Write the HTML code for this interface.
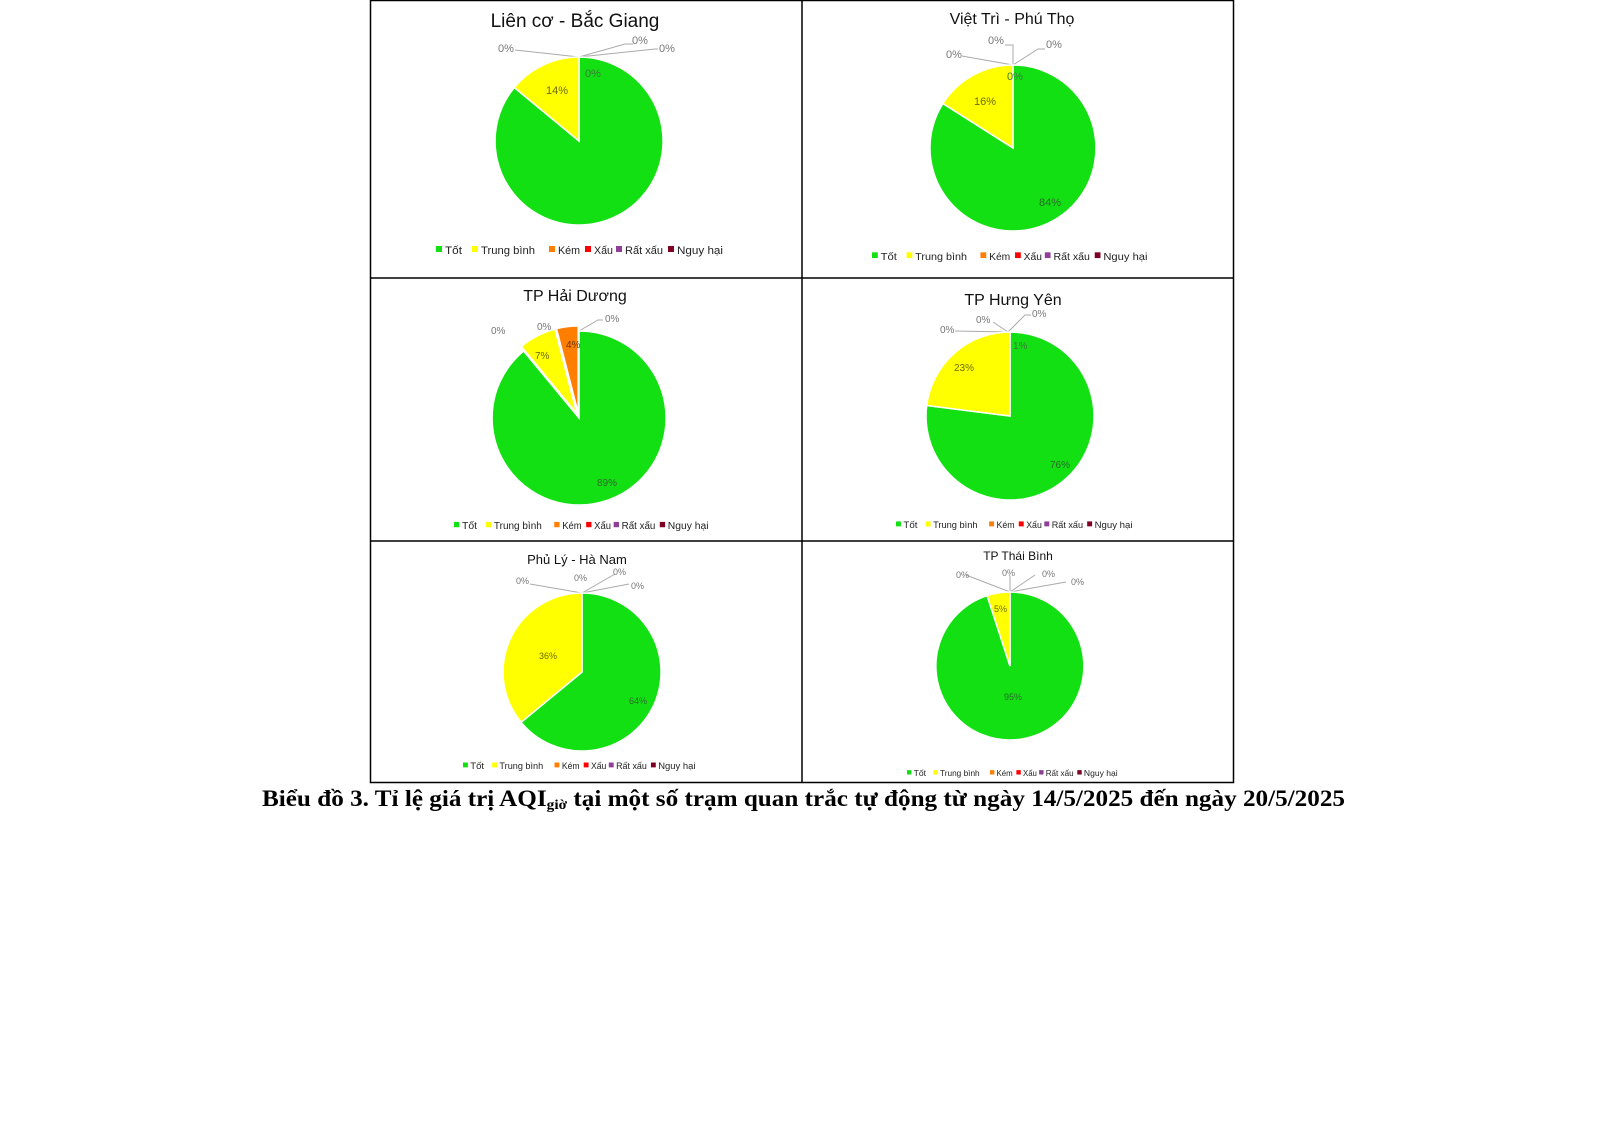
<!DOCTYPE html>
<html><head><meta charset="utf-8"><style>
html,body{margin:0;padding:0;background:#fff;}
svg{display:block;}
text{font-family:"Liberation Sans",sans-serif;}
</style></head><body>
<svg width="1600" height="1132" viewBox="0 0 1600 1132" xmlns="http://www.w3.org/2000/svg">
<defs>
<g id="leg">
<rect x="0" y="-8" width="6" height="6" fill="#13e013"/><text x="9" y="0" font-size="11" fill="#222" textLength="17" lengthAdjust="spacingAndGlyphs">Tốt</text>
<rect x="36" y="-8" width="6" height="6" fill="#ffff00"/><text x="45" y="0" font-size="11" fill="#222" textLength="54" lengthAdjust="spacingAndGlyphs">Trung bình</text>
<rect x="113" y="-8" width="6" height="6" fill="#ff7e00"/><text x="122" y="0" font-size="11" fill="#222" textLength="22" lengthAdjust="spacingAndGlyphs">Kém</text>
<rect x="149" y="-8" width="6" height="6" fill="#ff0000"/><text x="158" y="0" font-size="11" fill="#222" textLength="19" lengthAdjust="spacingAndGlyphs">Xấu</text>
<rect x="180" y="-8" width="6" height="6" fill="#8f3f97"/><text x="189" y="0" font-size="11" fill="#222" textLength="38" lengthAdjust="spacingAndGlyphs">Rất xấu</text>
<rect x="232" y="-8" width="6" height="6" fill="#7e0023"/><text x="241" y="0" font-size="11" fill="#222" textLength="46" lengthAdjust="spacingAndGlyphs">Nguy hại</text>
</g>
</defs>
<g stroke="#000" stroke-width="1.5" fill="none">
<rect x="370.5" y="0.5" width="863" height="782"/>
<line x1="802" y1="0" x2="802" y2="783"/>
<line x1="370" y1="278" x2="1234" y2="278"/>
<line x1="370" y1="541" x2="1234" y2="541"/>
</g>
<g stroke="#aaa" stroke-width="1" fill="none">
<polyline points="515,50 579,57 625,44 633,44"/><polyline points="579,57 655,49 658,49"/>
<polyline points="962,56 1013,65 1013,45 1005,45"/><polyline points="1013,65 1038,49 1045,49"/>
<polyline points="579,331 598,320 603,320"/>
<polyline points="955,331 1008,332"/><polyline points="993,322 1008,332"/><polyline points="1008,332 1025,315 1031,315"/>
<polyline points="530,584 582,593 615,574"/><polyline points="582,593 629,584"/>
<polyline points="966,575 1010,592 1010,576"/><polyline points="1010,592 1035,575"/><polyline points="1010,592 1066,582"/>
</g>
<text x="575" y="27" font-size="19" text-anchor="middle" fill="#111">Liên cơ - Bắc Giang</text>
<path d="M579 141 L579 57 A84 84 0 1 1 514.3 87.5 Z" fill="#13e013" stroke="#fff" stroke-width="1.5"/>
<path d="M579 141 L514.3 87.5 A84 84 0 0 1 579 57 Z" fill="#ffff00" stroke="#fff" stroke-width="1.5"/>
<g font-size="11" fill="#777"><text x="498" y="52">0%</text><text x="632" y="44">0%</text><text x="659" y="52">0%</text></g>
<text x="585" y="77" font-size="11" fill="#3a7a3a">0%</text>
<text x="546" y="94" font-size="11" fill="#6b6b00">14%</text>
<use href="#leg" transform="translate(436,254)"/>
<text x="1012" y="24" font-size="16" text-anchor="middle" fill="#111">Việt Trì - Phú Thọ</text>
<path d="M1013 148 L1013 65 A83 83 0 1 1 942.9 103.5 Z" fill="#13e013" stroke="#fff" stroke-width="1.5"/>
<path d="M1013 148 L942.9 103.5 A83 83 0 0 1 1013 65 Z" fill="#ffff00" stroke="#fff" stroke-width="1.5"/>
<g font-size="11" fill="#777"><text x="946" y="58">0%</text><text x="988" y="44">0%</text><text x="1046" y="48">0%</text></g>
<text x="1007" y="80" font-size="11" fill="#3a7a3a">0%</text>
<text x="974" y="105" font-size="11" fill="#6b6b00">16%</text>
<text x="1039" y="206" font-size="11" fill="#2a6a2a">84%</text>
<use href="#leg" transform="translate(872,260) scale(0.96)"/>
<text x="575" y="301" font-size="16" text-anchor="middle" fill="#111">TP Hải Dương</text>
<path d="M579 418 L579 331 A87 87 0 1 1 523.6 351 Z" fill="#13e013" stroke="#fff" stroke-width="1.5"/>
<path d="M576.7 413.5 L521.3 346.5 A87 87 0 0 1 555 329.2 Z" fill="#ffff00" stroke="#fff" stroke-width="1.5"/>
<path d="M578.2 413 L556.5 328.7 A87 87 0 0 1 578.2 326 Z" fill="#ff7e00" stroke="#fff" stroke-width="1.5"/>
<g font-size="10" fill="#777"><text x="491" y="334">0%</text><text x="537" y="330">0%</text><text x="605" y="322">0%</text></g>
<text x="566" y="348" font-size="10" fill="#6a3300">4%</text>
<text x="535" y="359" font-size="10" fill="#6b6b00">7%</text>
<text x="597" y="486" font-size="10" fill="#2a6a2a">89%</text>
<use href="#leg" transform="translate(454,529) scale(0.887)"/>
<text x="1013" y="305" font-size="16" text-anchor="middle" fill="#111">TP Hưng Yên</text>
<path d="M1010 416 L1010 332 A84 84 0 1 1 926.7 405.5 Z" fill="#13e013" stroke="#fff" stroke-width="1.5"/>
<path d="M1010 416 L926.7 405.5 A84 84 0 0 1 1010 332 Z" fill="#ffff00" stroke="#fff" stroke-width="1.5"/>
<g font-size="10" fill="#777"><text x="940" y="333">0%</text><text x="976" y="323">0%</text><text x="1032" y="317">0%</text></g>
<text x="1013" y="349" font-size="10" fill="#3a7a3a">1%</text>
<text x="954" y="371" font-size="10" fill="#6b6b00">23%</text>
<text x="1050" y="468" font-size="10" fill="#2a6a2a">76%</text>
<use href="#leg" transform="translate(896,528) scale(0.824)"/>
<text x="577" y="564" font-size="13" text-anchor="middle" fill="#111">Phủ Lý - Hà Nam</text>
<path d="M582 672 L582 593 A79 79 0 1 1 521.1 722.3 Z" fill="#13e013" stroke="#fff" stroke-width="1.5"/>
<path d="M582 672 L521.1 722.3 A79 79 0 0 1 582 593 Z" fill="#ffff00" stroke="#fff" stroke-width="1.5"/>
<g font-size="9" fill="#777"><text x="516" y="584">0%</text><text x="574" y="581">0%</text><text x="613" y="575">0%</text><text x="631" y="589">0%</text></g>
<text x="539" y="659" font-size="9" fill="#6b6b00">36%</text>
<text x="629" y="704" font-size="9" fill="#2a6a2a">64%</text>
<use href="#leg" transform="translate(463,769) scale(0.81)"/>
<text x="1018" y="560" font-size="12" text-anchor="middle" fill="#111">TP Thái Bình</text>
<path d="M1010 666 L1010 592 A74 74 0 1 1 987.1 595.6 Z" fill="#13e013" stroke="#fff" stroke-width="1.5"/>
<path d="M1010 666 L987.1 595.6 A74 74 0 0 1 1010 592 Z" fill="#ffff00" stroke="#fff" stroke-width="1.5"/>
<g font-size="9" fill="#777"><text x="956" y="578">0%</text><text x="1002" y="576">0%</text><text x="1042" y="577">0%</text><text x="1071" y="585">0%</text></g>
<text x="994" y="612" font-size="9" fill="#6b6b00">5%</text>
<text x="1004" y="700" font-size="9" fill="#2a6a2a">95%</text>
<use href="#leg" transform="translate(907,776) scale(0.734)"/>
<text x="262" y="806" style="font-family:'Liberation Serif',serif;font-size:23px;font-weight:bold" fill="#000" textLength="1083" lengthAdjust="spacingAndGlyphs">Biểu đồ 3.  Tỉ lệ giá trị AQI<tspan style="font-size:14px" dy="3">giờ</tspan><tspan dy="-3"> tại một số trạm quan trắc tự động từ ngày  14/5/2025 đến ngày 20/5/2025</tspan></text>
</svg>
</body></html>
